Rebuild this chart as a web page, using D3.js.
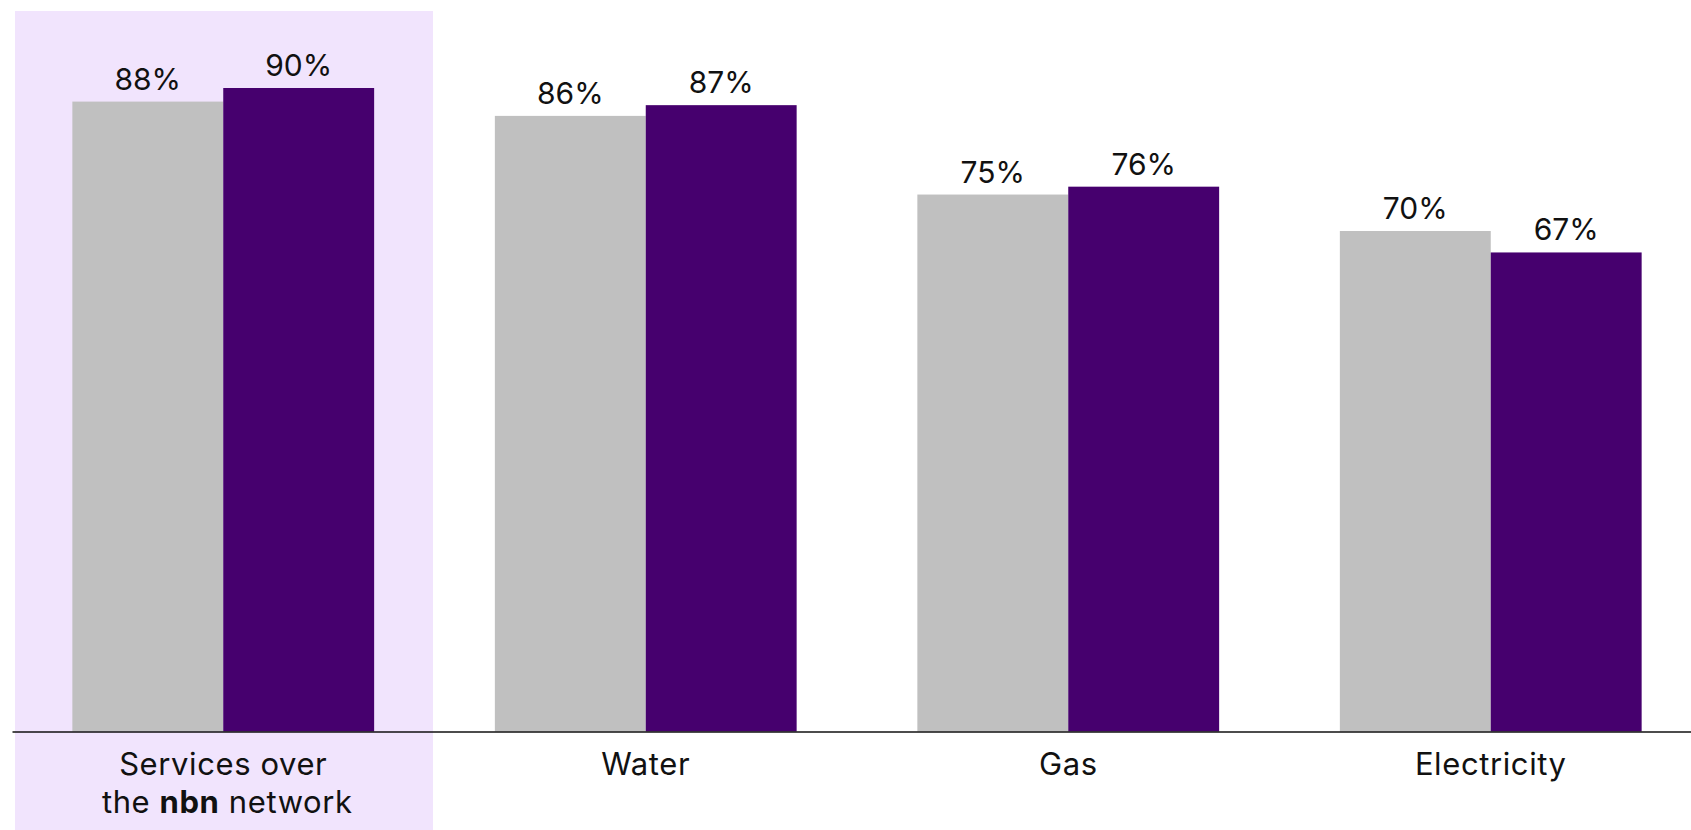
<!DOCTYPE html>
<html>
<head>
<meta charset="utf-8">
<script src="https://cdn.jsdelivr.net/npm/d3@7"></script>
<style>
  body { margin: 0; background: #fff; }
  text { font-family: Inter, "Noto Sans", sans-serif; }
</style>
</head>
<body>
<div id="chart"></div>
<script>
const categories = ['Services over the nbn network', 'Water', 'Gas', 'Electricity'];
// bar heights; labels show the truncated percentage
const greyValues = [88.1, 86.1, 75.1, 70];
const purpleValues = [90, 87.6, 76.2, 67];
const seriesKeys = ['grey', 'purple'];

const width = 1691;
const height = 830;
const baseY = 731.5;

const colors = { grey: '#c0c0c0', purple: '#46006e' };

const data = categories.map((c, i) => ({
  category: c,
  values: [
    { key: 'grey', value: greyValues[i] },
    { key: 'purple', value: purpleValues[i] }
  ]
}));

const svg = d3.select('#chart')
  .append('svg')
  .attr('width', width)
  .attr('height', height);

const x = d3.scaleBand()
  .domain(categories)
  .range([12, 1702])
  .padding(0);

const xSub = d3.scaleBand()
  .domain(seriesKeys)
  .range([0, x.bandwidth()])
  .paddingInner(0)
  .paddingOuter(0.4);

const y = d3.scaleLinear()
  .domain([0, 100])
  .range([baseY, 16.5]);

// Highlight behind the nbn group
svg.append('rect')
  .attr('x', x(categories[0]) + 3)
  .attr('y', 11)
  .attr('width', x.bandwidth() - 4.5)
  .attr('height', height - 11)
  .attr('fill', '#f1e4fd');

// Bars
const group = svg.append('g')
  .selectAll('g')
  .data(data)
  .enter()
  .append('g')
  .attr('transform', d => `translate(${x(d.category)},0)`);

group.selectAll('rect')
  .data(d => d.values)
  .enter()
  .append('rect')
  .attr('x', d => xSub(d.key))
  .attr('y', d => y(d.value))
  .attr('width', xSub.bandwidth())
  .attr('height', d => baseY - y(d.value))
  .attr('fill', d => colors[d.key]);

// Value labels
group.selectAll('text')
  .data(d => d.values)
  .enter()
  .append('text')
  .attr('x', d => xSub(d.key) + xSub.bandwidth() / 2)
  .attr('y', d => y(d.value) - 12)
  .attr('text-anchor', 'middle')
  .attr('font-size', 30)
  .attr('fill', '#111')
  .text(d => Math.floor(d.value) + '%');

// Axis
const axis = svg.append('g')
  .attr('transform', `translate(0,${baseY})`)
  .call(d3.axisBottom(x).tickSize(0).tickPadding(0));

axis.select('.domain')
  .attr('stroke', '#111')
  .attr('stroke-width', 1.6);

axis.selectAll('.tick text').remove();

axis.selectAll('.tick')
  .append('text')
  .attr('text-anchor', 'middle')
  .attr('font-size', 31)
  .attr('letter-spacing', 0.6)
  .attr('fill', '#111')
  .each(function(d) {
    const t = d3.select(this);
    if (d === categories[0]) {
      t.append('tspan').attr('x', 0).attr('y', 43.5).text('Services over');
      const l2 = t.append('tspan').attr('x', 4).attr('y', 81);
      l2.append('tspan').text('the ');
      l2.append('tspan').attr('font-weight', 700).text('nbn');
      l2.append('tspan').text(' network');
    } else {
      t.append('tspan').attr('x', 0).attr('y', 43.5).text(d);
    }
  });
</script>
</body>
</html>
